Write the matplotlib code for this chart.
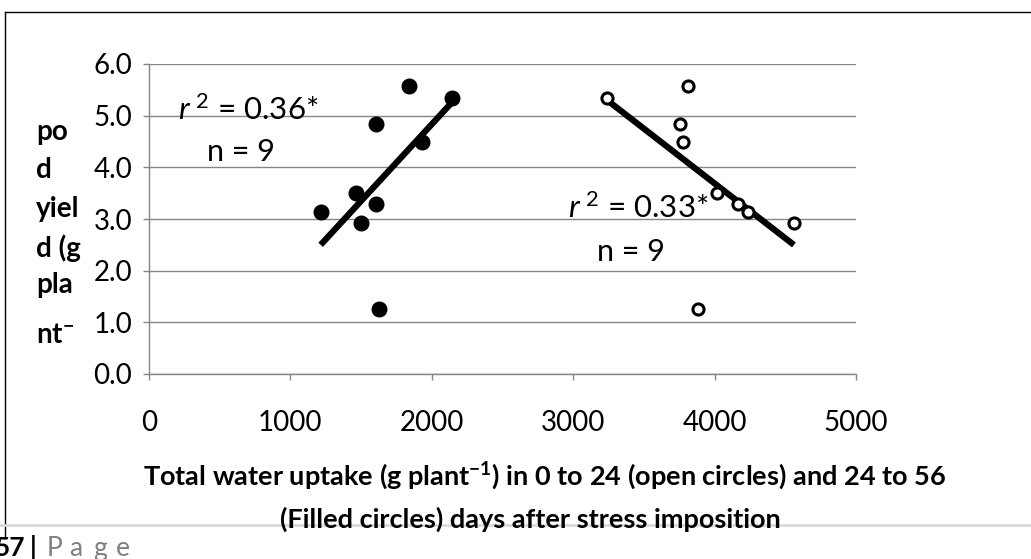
import numpy as np
import matplotlib
matplotlib.use("Agg")
import matplotlib.pyplot as plt
from matplotlib.lines import Line2D

plt.rcParams["font.family"] = ["Lato", "DejaVu Sans"]
plt.rcParams["mathtext.fontset"] = "custom"
plt.rcParams["mathtext.rm"] = "Lato"
plt.rcParams["mathtext.it"] = "Lato:italic"
plt.rcParams["mathtext.bf"] = "Lato:bold"
plt.rcParams["mathtext.default"] = "regular"

# pod yield (g plant-1), shared by both periods
pod_yield = [5.35, 5.58, 4.84, 4.49, 3.50, 3.30, 3.14, 2.92, 1.26]
# water uptake 24 to 56 DAS (filled) and 0 to 24 DAS (open)
uptake_24_56 = [2143, 1841, 1605, 1929, 1464, 1605, 1214, 1499, 1626]
uptake_0_24 = [3237, 3814, 3755, 3774, 4015, 4167, 4238, 4561, 3880]

r2_labels = ["$\\mathit{r}^{\\ 2}$ = 0.36*", "$\\mathit{r}^{\\ 2}$ = 0.33*"]
n_labels = ["n = 9", "n = 9"]
r2_pos = [(205, 5.11), (2963, 3.21)]
n_pos = [(410, 4.30), (3168, 2.36)]

ylabel_lines = ["po", "d", "yiel", "d (g", "pla", "nt$^{-}$"]
xlabel_lines = ["Total water uptake (g plant$^{-1}$) in 0 to 24 (open circles) and 24 to 56",
                "(Filled circles) days after stress imposition"]

xticks = [0, 1000, 2000, 3000, 4000, 5000]
yticks = [0.0, 1.0, 2.0, 3.0, 4.0, 5.0, 6.0]

W, H = 1031, 559
fig = plt.figure(figsize=(W / 100, H / 100), dpi=100)
ax = fig.add_axes([149 / W, 1 - 374 / H, 707 / W, 310 / H])

grey = "#868686"
ax.set_xlim(0, 5000)
ax.set_ylim(0, 6)
ax.set_xticks(xticks)
ax.set_xticklabels([str(t) for t in xticks])
ax.set_yticks(yticks)
ax.set_yticklabels([f"{t:.1f}" for t in yticks])
ax.yaxis.grid(True, color=grey, lw=1.0)
ax.set_axisbelow(True)
for s in ["top", "right"]:
    ax.spines[s].set_visible(False)
for s in ["left", "bottom"]:
    ax.spines[s].set_color(grey)
    ax.spines[s].set_linewidth(1.0)
ax.tick_params(axis="both", colors=grey, length=4, width=1.0, labelsize=20,
               labelcolor="black")
ax.tick_params(axis="y", pad=8)
ax.tick_params(axis="x", pad=22)

# points
ax.plot(uptake_24_56, pod_yield, "o", color="black", ms=10.5, zorder=3)
ax.plot(uptake_0_24, pod_yield, "o", mfc="white", mec="black", mew=2.2, ms=8,
        zorder=3)

# linear trends
for xs in (uptake_24_56, uptake_0_24):
    k, b = np.polyfit(xs, pod_yield, 1)
    xx = np.array([min(xs), max(xs)])
    ax.plot(xx, k * xx + b, color="black", lw=4.5, solid_capstyle="butt",
            zorder=2)

for lab, (x, y) in zip(r2_labels, r2_pos):
    ax.text(x, y, lab, fontsize=22.5, va="center", ha="left")
for lab, (x, y) in zip(n_labels, n_pos):
    ax.text(x, y, lab, fontsize=22, va="center", ha="left")

# y label, wrapped word by word as in the original
for line, yb in zip(ylabel_lines, [140, 178, 217, 257, 293, 343]):
    fig.text(36 / W, 1 - yb / H, line, fontsize=20, fontweight="bold",
             ha="left", va="baseline")

# x label
fig.text(545 / W, 1 - 476 / H, xlabel_lines[0], fontsize=19.5,
         fontweight="bold", ha="center", va="center")
fig.text(530 / W, 1 - 519 / H, xlabel_lines[1], fontsize=19.5,
         fontweight="bold", ha="center", va="center")

# chart border and page footer
fig.add_artist(Line2D([5 / W, 1], [1 - 12 / H, 1 - 12 / H], color="black", lw=1.0))
fig.add_artist(Line2D([5 / W, 5 / W], [1 - 12 / H, 1 - 538 / H], color="black", lw=1.0))
fig.add_artist(Line2D([0, 1], [1 - 525 / H, 1 - 525 / H], color="#d9d9d9", lw=2.0))
fig.text(25 / W, 1 - 556 / H, "57", fontsize=19, fontweight="bold", ha="right",
         va="baseline")
fig.text(30 / W, 1 - 556 / H, "|", fontsize=19, fontweight="bold", ha="left",
         va="baseline")
for ch, xl in zip("Page", [47, 69, 93, 116]):
    fig.text(xl / W, 1 - 556 / H, ch, fontsize=19, color="#7f7f7f", ha="left",
             va="baseline")

fig.savefig("out.png", dpi=100)
